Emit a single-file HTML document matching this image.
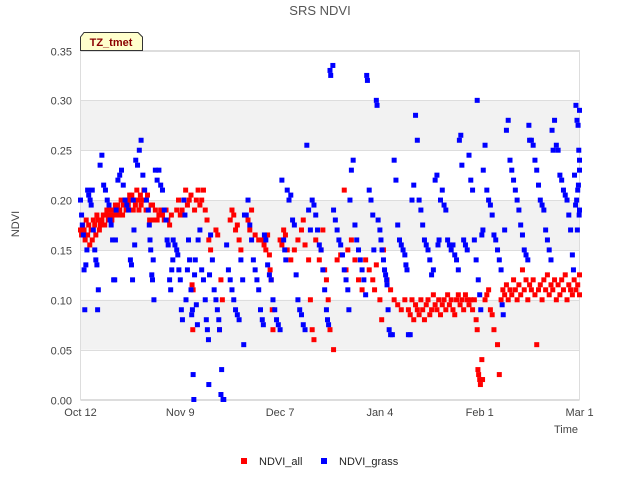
<!DOCTYPE html>
<html><head><meta charset="utf-8"><style>
body{margin:0;background:#fff;font-family:"Liberation Sans",sans-serif;}
svg text{font-family:"Liberation Sans",sans-serif;}
</style></head><body>
<svg id="chart" width="640" height="480" viewBox="0 0 640 480" xmlns="http://www.w3.org/2000/svg">
<rect width="640" height="480" fill="#fff"/>
<text x="320" y="15" text-anchor="middle" font-size="13" fill="#555">SRS NDVI</text>
<g id="bands"></g>
<g id="grid"></g>
<rect x="80.5" y="50.5" width="499" height="349" fill="none" stroke="#ddd"/>
<g id="yticks"></g><g id="xticks"></g>
<g id="marks"></g>
<text transform="translate(19,224) rotate(-90)" text-anchor="middle" font-size="11" fill="#444">NDVI</text>
<text x="578" y="433" text-anchor="end" font-size="11" fill="#444">Time</text>
<g>
<path d="M80.5,50.5 L80.5,37 L84,32.5 L138,32.5 L142.5,37 L142.5,50.5 Z" fill="#ffffcc" stroke="#333"/>
<text x="111" y="46" text-anchor="middle" font-size="11" font-weight="bold" fill="#8b0000">TZ_tmet</text>
</g>
<g>
<rect x="241" y="458" width="6" height="6" fill="#f00"/>
<text x="259" y="465" font-size="11" fill="#222">NDVI_all</text>
<rect x="321" y="458" width="6" height="6" fill="#00f"/>
<text x="339" y="465" font-size="11" fill="#222">NDVI_grass</text>
</g>
</svg>
<script>
const yTicks=[0,0.05,0.10,0.15,0.20,0.25,0.30,0.35];
const yTickLabels=["0.00","0.05","0.10","0.15","0.20","0.25","0.30","0.35"];
const xTickDays=[0,28,56,84,112,140];
const xTickLabels=["Oct 12","Nov 9","Dec 7","Jan 4","Feb 1","Mar 1"];
const ndviAllPoints=[
[0,.17],[0.3,.165],[0.6,.175],[1,.17],[1.3,.16],[1.6,.18],[2,.165],[2.3,.175],[2.6,.155],[3,.17],[3.3,.16],[3.6,.18],[4,.175],[4.3,.165],[4.6,.185],[5,.18],[5.3,.17],[5.6,.175],[6,.18],[6.4,.185],[6.8,.175],[7,.185],[7.4,.19],[7.8,.18],[8,.185],[8.4,.19],[8.8,.18],[9,.19],[9.4,.185],[9.8,.195],[10,.19],[10.4,.195],[10.8,.185],[11,.19],[11.4,.2],[11.8,.185],[12,.195],[12.4,.2],[12.8,.19],[13,.2],[13.4,.195],[13.8,.205],[14,.2],[14.4,.205],[14.8,.19],[15,.2],[15.4,.195],[15.8,.21],[16,.2],[16.4,.19],[16.8,.205],[17,.195],[17.4,.2],[17.8,.21],[18,.2],[18.4,.19],[18.8,.205],[19,.19],[19.4,.18],[19.8,.195],[20.2,.195],[20.6,.18],[21,.19],[21.5,.18],[22,.185],[22.5,.19],[23,.185],[23.5,.18],[24,.19],[24.5,.18],[25,.175],[25.5,.185],[27,.19],[27.5,.2],[28,.185],
[28.5,.19],[29,.2],[29.5,.21],[30,.195],[30.5,.2],[31,.205],[31.3,.115],[31.6,.11],[31.5,.07],[32,.19],[32.5,.2],[33,.21],[33.5,.195],[34,.2],[34.5,.21],[35,.19],[35.5,.18],[36,.16],[36.5,.15],[38,.17],[38.5,.165],[39,.07],[39.4,.12],[39.8,.1],
[42,.18],[42.5,.19],[43,.185],[43.5,.17],[44,.175],[44.5,.16],[45,.15],[47,.18],[47.5,.17],[48,.19],[49,.165],[50,.16],[51,.16],[51.5,.155],[52,.15],[52.5,.165],[53,.145],[53.2,.13],[53.5,.12],[53.8,.09],[54,.07],[56,.16],[56.5,.155],[57,.17],[57.5,.165],[58,.15],[59,.14],
[60,.15],[61,.16],[62,.17],[62.5,.18],[63,.155],[64,.14],[64.5,.1],[65,.07],[65.5,.06],[66,.16],[67,.14],[67.5,.15],[68,.17],[68.5,.13],[69,.12],[69.5,.1],[70,.07],[71,.05],[72,.14],[73,.145],[74,.21],[74.5,.13],[75,.15],[76,.16],[77,.14],[78,.12],[79,.11],
[80,.14],[81,.13],[82,.12],[82.5,.11],[83,.135],[84,.1],[84.5,.08],[85,.15],[86,.12],[87,.11],[88,.1],[89,.095],[90,.09],[91,.1],
[92,.09],[92.5,.085],[93,.1],[93.5,.08],[94,.095],[94.5,.09],[95,.085],[95.5,.1],[96,.09],[96.5,.08],[97,.095],[97.5,.1],[98,.085],[98.5,.09],[99,.105],[99.5,.095],[100,.09],[100.5,.1],[101,.085],[101.5,.095],[102,.1],[102.5,.09],[103,.105],[103.5,.095],[104,.1],[104.5,.09],[105,.085],[105.5,.1],[106,.105],[106.5,.095],[107,.1],[107.5,.09],[108,.105],[108.5,.1],[109,.095],[109.5,.1],
[110,.09],[110.5,.1],[111,.08],[111.3,.07],[111.5,.03],[111.7,.025],[112,.02],[112.2,.015],[112.6,.04],[112.8,.02],[113.5,.1],[114,.105],[114.5,.11],[115,.09],[115.5,.085],[116,.07],[117,.055],[117.5,.025],
[118,.1],[118.5,.11],[119,.105],[119.5,.115],[120,.1],[120.5,.11],[121,.105],[121.5,.12],[122,.11],[122.5,.1],[123,.115],[123.5,.105],[124,.13],[124.5,.11],[125,.12],[125.5,.1],[126,.115],[126.5,.11],[127,.12],[127.5,.105],[128,.055],[128.5,.11],[129,.115],[129.5,.1],[130,.12],[130.5,.11],[131,.125],[131.5,.105],[132,.115],[132.5,.11],[133,.12],[133.5,.1],[134,.115],[134.5,.105],[135,.12],[135.5,.11],[136,.125],[136.5,.1],[137,.115],[137.5,.11],[138,.105],[138.5,.12],[139,.11],[139.5,.115],[140,.125],[140,.105]
];
const ndviGrassPoints=[
[0,.2],[0.3,.185],[0.5,.175],[0.8,.165],[1,.13],[1.2,.09],[1.5,.135],[1.8,.15],[2,.21],[2.3,.205],[2.7,.2],[3,.195],[3.3,.21],[3.6,.17],[4,.15],[4.3,.14],[4.6,.135],[4.8,.09],[5,.11],
[5.5,.235],[6,.245],[6.5,.215],[7,.21],[7.5,.2],[8,.195],[8.3,.18],[8.6,.175],[9,.16],[9.3,.12],[9.6,.12],[9.8,.16],[10,.19],[10.5,.22],[11,.225],[11.5,.23],[12,.215],[12.5,.2],[13,.195],[13.5,.19],[14,.14],[14.3,.135],[14.6,.12],[14.8,.2],[15,.17],[15.2,.155],
[15.5,.24],[16,.235],[16.5,.25],[17,.26],[17.5,.225],[18,.21],[18.5,.2],[19,.19],[19.3,.175],[19.5,.16],[19.7,.15],[20,.125],[20.2,.12],[20.4,.14],[20.6,.1],[21,.23],[21.5,.22],[22,.23],[22.5,.215],[23,.21],[23.5,.19],[24,.18],[24.3,.16],[24.6,.155],[25,.12],[25.3,.11],[25.6,.13],[25.9,.14],
[26,.16],[26.5,.155],[27,.15],[27.3,.145],[27.6,.13],[28,.12],[28.3,.09],[28.6,.08],[29,.2],[29.3,.185],[29.6,.1],[30,.13],[30.3,.16],[30.6,.14],[31,.11],[31.2,.085],[31.4,.09],[31.6,.025],[31.8,.0],[32,.125],[32.2,.14],[32.5,.095],[32.8,.075],
[33,.16],[33.5,.17],[34,.13],[34.5,.12],[35,.1],[35.3,.08],[35.6,.07],[35.9,.06],[36,.015],[36.2,.125],[36.5,.165],[37,.14],[37.5,.11],[38,.1],[38.4,.09],[38.8,.08],[39,.07],[39.4,.005],[39.6,.03],[40,.0],[40.2,.0],
[41,.155],[41.5,.13],[42,.12],[42.5,.11],[43,.1],[43.5,.09],[44,.085],[44.5,.08],[45,.14],[45.5,.12],[45.8,.055],[46,.185],[46.5,.185],[47,.2],[47.5,.175],[48,.16],[48.5,.14],[49,.13],[49.5,.12],[50,.11],[50.5,.09],[51,.08],[51.3,.075],[51.6,.165],[52,.16],
[52.5,.135],[53,.125],[53.5,.12],[54,.1],[54.5,.09],[55,.08],[55.5,.075],[56,.07],[56.5,.22],[57,.16],[57.3,.15],[57.6,.14],[58,.21],[58.5,.2],[59,.205],[59.5,.18],[60,.175],[60.5,.125],[61,.1],[61.5,.09],[62,.085],[62.5,.075],[63,.07],[63.5,.255],[64,.19],[64.5,.17],
[65,.2],[65.5,.195],[66,.185],[66.5,.17],[67,.155],[67.5,.15],[68,.13],[68.5,.11],[69,.09],[69.3,.08],[69.6,.075],[70,.33],[70.2,.325],[70.8,.335],[71,.19],[71.5,.18],[72,.17],[72.5,.16],[73,.155],[73.5,.145],[74,.13],[74.5,.12],[75,.11],[75.3,.09],[75.6,.2],[76,.23],[76.5,.24],
[77,.175],[77.5,.16],[78,.15],[78.5,.14],[79,.13],[79.5,.12],[80,.105],[80.3,.325],[80.5,.32],[81,.21],[81.5,.2],[82,.185],[82.3,.15],[83,.3],[83.2,.295],[83.5,.18],[84,.17],[84.3,.16],[84.6,.15],[85,.14],[85.3,.13],[85.6,.125],[85.9,.12],[86,.115],[86.3,.09],[86.6,.07],[87,.065],[87.5,.065],
[88,.24],[88.5,.22],[89,.175],[89.5,.16],[90,.155],[90.5,.15],[91,.145],[91.3,.135],[91.6,.13],[92,.065],[92.5,.065],[93,.2],[93.5,.215],[94,.285],[94.5,.26],[95,.2],[95.5,.19],[96,.175],[96.5,.16],[97,.155],[97.5,.15],[98,.14],[98.5,.125],[99,.13],[99.5,.22],[100,.225],[100.3,.155],[100.6,.16],
[101,.2],[101.5,.21],[102,.195],[102.5,.19],[103,.16],[103.5,.155],[104,.15],[104.5,.155],[105,.145],[105.5,.14],[106,.13],[106.3,.26],[106.7,.265],[107,.235],[107.5,.16],[108,.155],[108.5,.15],[109,.245],[109.5,.22],[110,.21],[110.5,.16],[111,.14],[111.3,.3],[111.6,.12],[112,.105],[112.3,.09],[112.6,.165],[112.9,.17],[113,.23],
[113.5,.255],[114,.21],[114.5,.2],[115,.195],[115.5,.185],[116,.165],[116.5,.16],[117,.15],[117.5,.14],[118,.13],[118.3,.095],[118.6,.085],[119,.17],[119.5,.27],[120,.28],[120.5,.24],[121,.23],[121.5,.22],[122,.21],[122.5,.2],[123,.19],[123.5,.175],[124,.165],[124.5,.15],[125,.145],[125.5,.14],[125.8,.275],[126,.26],
[126.5,.26],[127,.255],[127.5,.24],[128,.23],[128.5,.215],[129,.2],[129.5,.195],[130,.19],[130.5,.17],[131,.16],[131.5,.15],[132,.14],[132.3,.27],[132.6,.25],[133,.28],[133.5,.255],[134,.25],[134.5,.225],[135,.22],[135.5,.21],[136,.205],[136.5,.2],[137,.185],[137.5,.17],[138,.145],[138.3,.13],[138.6,.225],[138.9,.195],
[139,.295],[139.3,.28],[139.6,.275],[139.8,.25],[140,.24],[140,.23],[139.7,.215],[139.5,.21],[139.2,.2],[139.9,.185],[140,.19],[139.4,.17],[140,.29]
];
const X0=80.5,X1=579.5,Y0=399.5,Y1=50.5,DMAX=140,VMAX=0.35;
const xScale=d=>X0+(d/DMAX)*(X1-X0);
const yScale=v=>Y0-(v/VMAX)*(Y0-Y1);
const NS="http://www.w3.org/2000/svg";
function mk(tag,attrs,parent){const e=document.createElementNS(NS,tag);for(const k in attrs)e.setAttribute(k,attrs[k]);parent.appendChild(e);return e;}
const bands=document.getElementById('bands'),grid=document.getElementById('grid');
for(let i=0;i<yTicks.length-1;i++){
  if(i%2===1){const b=mk('rect',{x:X0,y:yScale(yTicks[i+1]),width:X1-X0,height:yScale(yTicks[i])-yScale(yTicks[i+1]),fill:'#f2f2f2'},bands);
  
  }
}
const yt=document.getElementById('yticks');
yTicks.forEach((v,i)=>{const y=Math.round(yScale(v))+0.5;
  const l=mk('line',{x1:X0,x2:X1,y1:y,y2:y,stroke:'#ddd'},grid);
  
  
  const t=mk('text',{x:72,y:y+4,'text-anchor':'end','font-size':'11',fill:'#444'},yt);t.textContent=yTickLabels[i];
  
  });
const xt=document.getElementById('xticks');
xTickDays.forEach((d,i)=>{const x=xScale(d);
  const t=mk('text',{x:x,y:416,'text-anchor':'middle','font-size':'11',fill:'#444'},xt);t.textContent=xTickLabels[i];
  
  });
const marks=document.getElementById('marks');
const gA=mk('g',{fill:'#f00'},marks);


const gG=mk('g',{fill:'#00f'},marks);


ndviAllPoints.forEach(p=>{const r=mk('rect',{x:xScale(p[0])-2.5,y:yScale(p[1])-2.5,width:5,height:5},gA);
  
  });
ndviGrassPoints.forEach(p=>{const r=mk('rect',{x:xScale(p[0])-2.5,y:yScale(p[1])-2.5,width:5,height:5},gG);
  
  });
</script>
</body></html>
